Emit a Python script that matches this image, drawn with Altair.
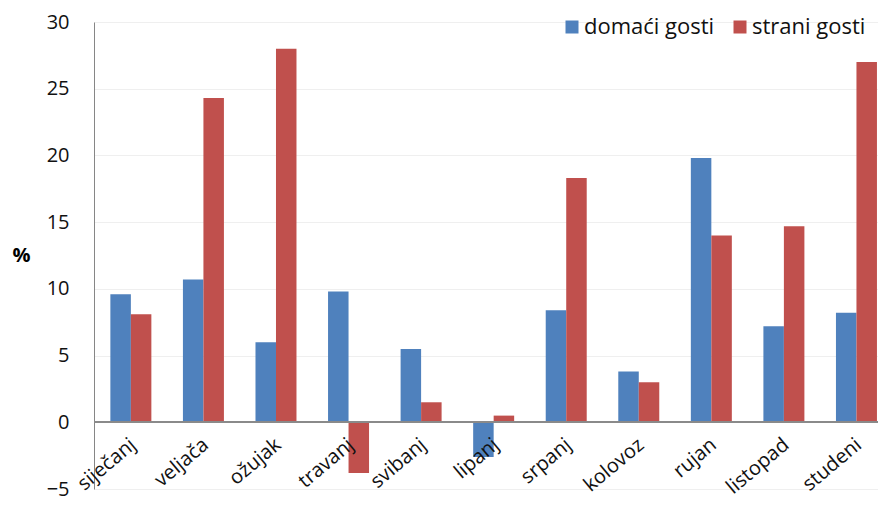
import altair as alt
import pandas as pd

months = ["siječanj", "veljača", "ožujak", "travanj", "svibanj", "lipanj",
          "srpanj", "kolovoz", "rujan", "listopad", "studeni"]
domaci = [9.6, 10.7, 6.0, 9.8, 5.5, -2.6, 8.4, 3.8, 19.8, 7.2, 8.2]
strani = [8.1, 24.3, 28.0, -3.8, 1.5, 0.5, 18.3, 3.0, 14.0, 14.7, 27.0]
series = ["domaći gosti", "strani gosti"]
colors = ["#4F81BD", "#C0504D"]
y_ticks = [-5, 0, 5, 10, 15, 20, 25, 30]

rows = []
for m, d, s in zip(months, domaci, strani):
    rows.append({"mjesec": m, "serija": series[0], "vrijednost": d})
    rows.append({"mjesec": m, "serija": series[1], "vrijednost": s})
df = pd.DataFrame(rows)
df_m = pd.DataFrame({"mjesec": months})

FONT = "Open Sans"

x_enc = alt.X("mjesec:N", sort=months, axis=None,
              scale=alt.Scale(paddingInner=0.435, paddingOuter=0.12, align=0.94))

bars = alt.Chart(df).mark_bar().encode(
    x=x_enc,
    xOffset=alt.XOffset("serija:N", sort=series,
                        scale=alt.Scale(paddingInner=0, paddingOuter=0)),
    y=alt.Y("vrijednost:Q",
            scale=alt.Scale(domain=[-5, 30], nice=False, zero=False),
            axis=alt.Axis(values=y_ticks, title="%", titleAngle=0,
                          titleX=-82, titleY=233, titleAlign="left",
                          titleBaseline="middle", titleFontSize=20,
                          titleFontWeight="bold", titleFont=FONT,
                          titleColor="#000",
                          labelFont=FONT, labelFontSize=20, labelColor="#111",
                          labelPadding=25, ticks=False,
                          domainColor="#868686", domainWidth=1,
                          gridColor="#efefef", gridWidth=1)),
    color=alt.Color("serija:N", sort=series,
                    scale=alt.Scale(domain=series, range=colors),
                    legend=alt.Legend(title=None, orient="none",
                                      direction="horizontal",
                                      legendX=467, legendY=-6,
                                      symbolType="square", symbolSize=169,
                                      symbolStrokeWidth=0,
                                      labelFont=FONT, labelFontSize=22,
                                      labelColor="#111", labelOffset=1,
                                      columnPadding=14, padding=0)),
)

zero_rule = alt.Chart(df_m).mark_rule(color="#8a8a8a", strokeWidth=1.5).encode(
    y=alt.datum(0)
)

labels = alt.Chart(df_m).mark_text(
    angle=320, align="right", baseline="middle", dx=-11, dy=17,
    font=FONT, fontSize=20, color="#111"
).encode(
    x=alt.X("mjesec:N", sort=months, axis=None),
    y=alt.datum(0),
    text="mjesec:N",
)

chart = alt.layer(bars, zero_rule, labels).properties(
    width=784, height=467,
    padding={"left": 86, "top": 14, "right": 0, "bottom": 13},
    autosize="none",
).configure_view(stroke=None)

chart.save("out.html", embed_options={"renderer": "svg", "actions": False})
